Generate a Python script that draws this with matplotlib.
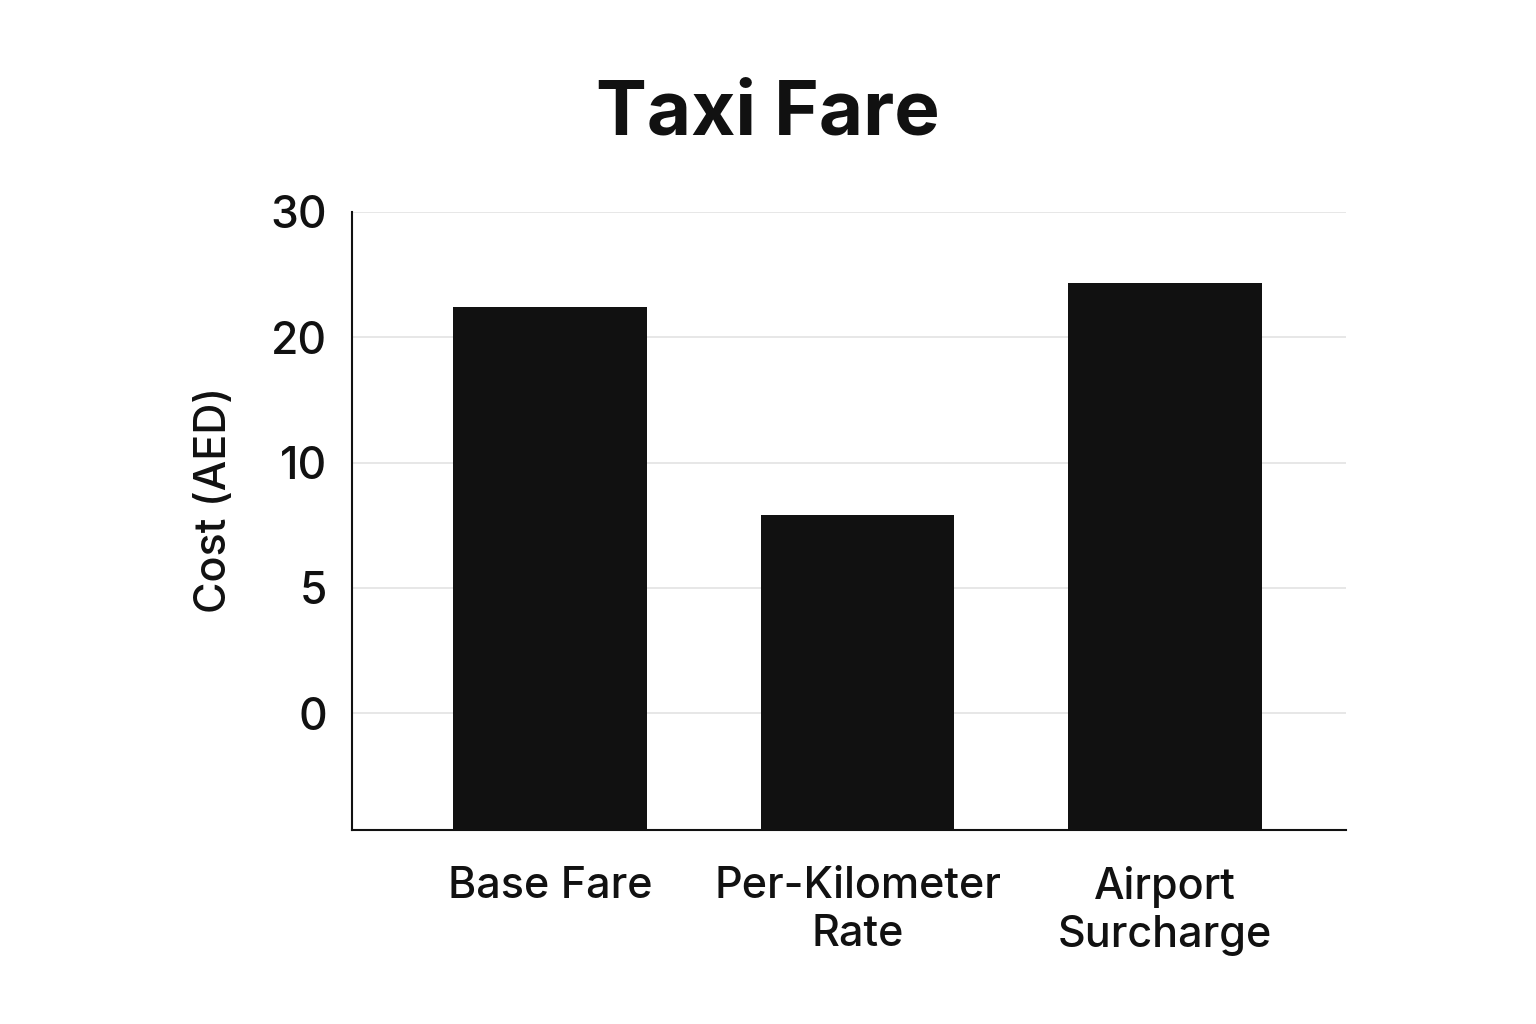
import numpy as np
import matplotlib
matplotlib.use("Agg")
import matplotlib.pyplot as plt

categories = ["Base Fare", "Per-Kilometer\nRate", "Airport\nSurcharge"]
costs = [22.4, 7.9, 24.3]
tick_values = [0, 5, 10, 20, 30]
tick_labels = ["0", "5", "10", "20", "30"]

# piecewise-linear scale: tick values are evenly spaced on the axis
_v = np.array([-1000.0, 0, 5, 10, 20, 30, 1000.0])
_p = np.array([-200.0, 0, 1, 2, 3, 4, 101.0])

def fwd(v):
    return np.interp(v, _v, _p)

def inv(p):
    return np.interp(p, _p, _v)

plt.rcParams['font.family'] = ['Inter', 'DejaVu Sans']
plt.rcParams['font.weight'] = 'medium'

fig = plt.figure(figsize=(15.36, 10.24), dpi=100)
ax = fig.add_axes([352/1536, 1 - 830/1024, (1346-352)/1536, (830-212)/1024])
ax.set_yscale('function', functions=(fwd, inv))
ymin = inv(-0.934)
ax.set_ylim(ymin, 30)
ax.set_xlim(-0.645, 2.59)

x = np.arange(len(categories))
ax.bar(x, np.array(costs) - ymin, bottom=ymin, width=0.63, color='#111111', zorder=3)

ax.set_yticks(tick_values)
ax.set_yticklabels(tick_labels)
ax.yaxis.set_minor_locator(matplotlib.ticker.NullLocator())
ax.set_xticks(x)
ax.set_xticklabels(categories, linespacing=1.22)
ax.tick_params(axis='y', length=0, pad=18, labelsize=32, colors='#111111')
ax.tick_params(axis='x', length=0, pad=26, labelsize=31, colors='#111111')
ax.grid(axis='y', color='#e3e3e3', linewidth=1.2, zorder=0)

for s in ['top', 'right']:
    ax.spines[s].set_visible(False)
for s in ['left', 'bottom']:
    ax.spines[s].set_linewidth(1.5)
    ax.spines[s].set_color('#111111')

ax.set_ylabel("Cost (AED)", fontsize=31, color='#111111', fontweight='medium')
ax.yaxis.set_label_coords(-0.118, 0.534)
fig.text(0.5, 1 - 115/1024, "Taxi Fare", ha='center', va='center',
         fontsize=55, fontweight='bold', color='#111111')

fig.savefig("out.png", dpi=100, facecolor='white')
